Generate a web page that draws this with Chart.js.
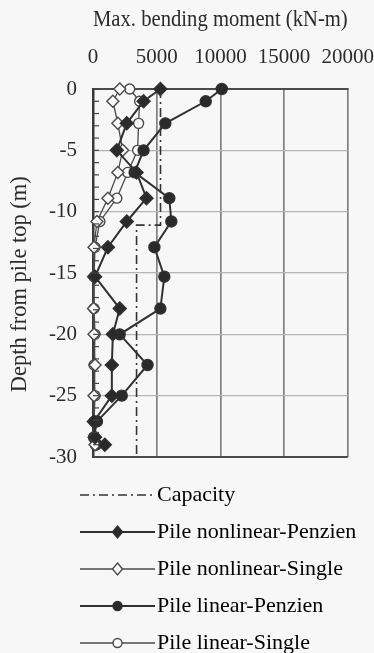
<!DOCTYPE html>
<html>
<head>
<meta charset="utf-8">
<script src="https://cdn.jsdelivr.net/npm/chart.js@4.4.1/dist/chart.umd.min.js"></script>
<style>
  html, body { margin: 0; padding: 0; background: #f7f7f7; }
  #wrap { position: relative; width: 374px; height: 653px; }
</style>
</head>
<body>
<div id="wrap"><canvas id="chart"></canvas></div>
<script>
// depths of the pile nodes (m) and max bending moment per case (kN-m)
var depths = [0, -1, -2.8, -5, -6.8, -8.9, -10.8, -12.9, -15.3, -17.9, -20, -22.5, -25, -27.1, -28.4, -29];
var nonlinPenzien = [5290, 3970, 2650, 1870, 3420, 4200, 2650, 1170, 160, 2100, 1560, 1480, 1480, 80, 160, 930];
var nonlinSingle = [2100, 1560, 1950, 2330, 1950, 1170, 310, 80, 40, 40, 80, 160, 80, 40, 80, 160];
var linPenzien = [10110, 8850, 5680, 3970, 3270, 5990, 6150, 4820, 5600, 5290, 2100, 4280, 2260, 310, 80, 230];
var linSingle = [2880, 3660, 3580, 3500, 2720, 1870, 540, 160, 80, 80, 160, 80, 160, 80, 160, 230];
var capacityDepths = [0, -11.1, -11.1, -30];
var capacityValues = [5300, 5300, 3420, 3420];
var xTicks = [0, 5000, 10000, 15000, 20000];

(function () {
  'use strict';

  var serif = "'Liberation Serif', 'Times New Roman', serif";
  var ink = '#2b2b2b';
  Chart.defaults.font.family = serif;
  Chart.defaults.font.size = 21;
  Chart.defaults.color = ink;

  function pairs(xs, ys) {
    return ys.map(function (y, i) {
      return { x: xs[i], y: y };
    });
  }

  var styles = [
    { dash: [9, 4, 2, 4], width: 1.6, marker: null },
    { width: 2, marker: 'diamond', fill: '#2a2a2a', stroke: '#303030' },
    { width: 1.3, marker: 'diamond', fill: '#fafafa', stroke: '#4a4a4a' },
    { width: 2, marker: 'circle', fill: '#2a2a2a', stroke: '#303030' },
    { width: 1.3, marker: 'circle', fill: '#fafafa', stroke: '#4a4a4a' },
  ];

  // line + marker sample for the legend, right end lands next to the text
  function legendImage(s) {
    var c = document.createElement('canvas');
    c.width = 149;
    c.height = 16;
    var g = c.getContext('2d');
    g.strokeStyle = s.stroke || '#333';
    g.lineWidth = s.width;
    if (s.dash) g.setLineDash(s.dash);
    g.beginPath();
    g.moveTo(74, 8);
    g.lineTo(149, 8);
    g.stroke();
    g.setLineDash([]);
    if (s.marker) {
      var cx = 111.5, r = 5;
      g.fillStyle = s.fill;
      g.lineWidth = 1.4;
      g.beginPath();
      if (s.marker === 'diamond') {
        g.moveTo(cx, 8 - r - 1);
        g.lineTo(cx + r, 8);
        g.lineTo(cx, 8 + r + 1);
        g.lineTo(cx - r, 8);
        g.closePath();
      } else {
        g.arc(cx, 8, r - 0.5, 0, Math.PI * 2);
      }
      g.fill();
      g.stroke();
    }
    return c;
  }

  function series(label, values, ys, s) {
    var filled = s.fill !== '#fafafa';
    var ds = {
      label: label,
      data: pairs(values, ys),
      showLine: true,
      borderColor: s.stroke || '#333',
      borderWidth: s.width,
      fill: false,
      clip: 8,
    };
    if (s.dash) {
      ds.borderDash = s.dash;
      ds.pointRadius = 0;
    } else {
      ds.pointStyle = s.marker === 'diamond' ? 'rectRot' : 'circle';
      if (s.marker === 'diamond') {
        ds.pointRadius = filled ? 6.5 : 6;
      } else {
        ds.pointRadius = filled ? 5.5 : 5;
      }
      ds.pointBackgroundColor = s.fill;
      ds.pointBorderColor = s.stroke;
      ds.pointBorderWidth = 1.4;
    }
    return ds;
  }

  var innerTicks = {
    id: 'innerTicks',
    afterDraw: function (chart) {
      var y = chart.scales.y;
      var left = chart.chartArea.left;
      var ctx = chart.ctx;
      ctx.save();
      ctx.strokeStyle = '#444';
      ctx.lineWidth = 1.2;
      for (var d = y.min; d <= y.max; d++) {
        var py = y.getPixelForValue(d);
        ctx.beginPath();
        ctx.moveTo(left, py);
        ctx.lineTo(left + 6, py);
        ctx.stroke();
      }
      ctx.restore();
    },
  };

  var labels = ['Capacity', 'Pile nonlinear-Penzien', 'Pile nonlinear-Single', 'Pile linear-Penzien', 'Pile linear-Single'];
  var images = styles.map(legendImage);
  var titleFont = { size: 22.5 };

  new Chart(document.getElementById('chart'), {
    type: 'scatter',
    data: {
      datasets: [
        series(labels[0], capacityValues, capacityDepths, styles[0]),
        series(labels[1], nonlinPenzien, depths, styles[1]),
        series(labels[2], nonlinSingle, depths, styles[2]),
        series(labels[3], linPenzien, depths, styles[3]),
        series(labels[4], linSingle, depths, styles[4]),
      ],
    },
    options: {
      responsive: true,
      maintainAspectRatio: false,
      animation: false,
      layout: { padding: { top: 0, left: 0, right: 0, bottom: -11 } },
      plugins: {
        tooltip: { enabled: false },
        legend: {
          position: 'bottom',
          align: 'start',
          labels: {
            usePointStyle: true,
            pointStyleWidth: 131,
            padding: 15,
            color: ink,
            font: { size: 22 },
            generateLabels: function (chart) {
              return chart.data.datasets.map(function (ds, i) {
                return {
                  text: ds.label,
                  pointStyle: images[i],
                  datasetIndex: i,
                  lineWidth: 0,
                  strokeStyle: 'transparent',
                  fillStyle: 'transparent',
                };
              });
            },
          },
        },
      },
      scales: {
        x: {
          type: 'linear',
          position: 'top',
          min: 0,
          max: 20000,
          afterFit: function (s) { s.height = 89; },
          afterBuildTicks: function (s) {
            s.ticks = xTicks.map(function (v) { return { value: v }; });
          },
          ticks: {
            padding: 0,
            maxRotation: 0,
            callback: function (v) { return String(v); },
          },
          grid: { tickLength: 19, tickColor: 'transparent', color: '#808080', lineWidth: 1.7 },
          border: { color: '#4a4a4a', width: 2 },
          title: {
            display: true,
            text: 'Max. bending moment (kN-m)',
            font: titleFont,
            padding: { top: 7, bottom: 0 },
          },
        },
        y: {
          type: 'linear',
          min: -30,
          max: 0,
          afterFit: function (s) { s.width = 93; },
          ticks: { stepSize: 5, padding: 0 },
          grid: {
            tickLength: 16,
            tickColor: 'transparent',
            color: function (c) { return c.tick && c.tick.value === -30 ? '#4a4a4a' : '#b5b5b5'; },
            lineWidth: function (c) { return c.tick && c.tick.value === -30 ? 2 : 1.3; },
          },
          border: { color: '#3a3a3a', width: 2.5 },
          title: {
            display: true,
            text: 'Depth from pile top (m)    ',
            font: titleFont,
            padding: { top: 7, bottom: 0 },
          },
        },
        // spacer between plot and legend
        xb: {
          type: 'linear',
          position: 'bottom',
          grid: { display: false },
          border: { display: false },
          ticks: { display: false },
          afterFit: function (s) { s.height = 12; },
        },
      },
    },
    plugins: [innerTicks],
  });
})();
</script>
</body>
</html>
